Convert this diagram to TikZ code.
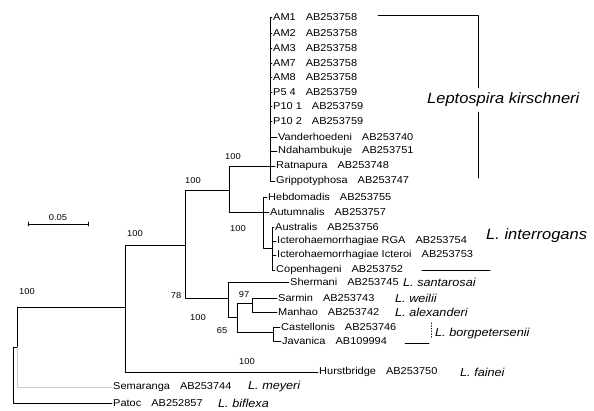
\documentclass[tikz,border=0pt]{standalone}
\usepackage{fontspec}
\setmainfont{Liberation Sans}[FakeStretch=1.1]
\usetikzlibrary{calc}
\tikzset{
  taxon/.style={anchor=west, inner sep=1pt, font=\fontsize{10}{11}\selectfont},
  species/.style={anchor=west, inner sep=0pt, font=\fontsize{11.5}{12}\selectfont\itshape},
  group/.style={anchor=west, inner sep=0pt, font=\fontsize{15}{17}\selectfont\itshape},
  boot/.style={inner sep=0pt, font=\fontsize{8.5}{9}\selectfont},
  branch/.style={line width=0.7pt},
}

\begin{document}
\begin{tikzpicture}[x=1pt, y=-1pt, line join=round, line cap=round]
\useasboundingbox (0,0) rectangle (594,410);
\node[taxon] (am1) at (272,17) {AM1\quad AB253758};
\node[taxon] (am2) at (272,33) {AM2\quad AB253758};
\node[taxon] (am3) at (272,48) {AM3\quad AB253758};
\node[taxon] (am7) at (272,63) {AM7\quad AB253758};
\node[taxon] (am8) at (272,77) {AM8\quad AB253758};
\node[taxon] (p54) at (272,92) {P5 4\quad AB253759};
\node[taxon] (p101) at (272,106) {P10 1\quad AB253759};
\node[taxon] (p102) at (272,121) {P10 2\quad AB253759};
\node[taxon] (vand) at (277,137) {Vanderhoedeni\quad AB253740};
\node[taxon] (ndah) at (277,151) {Ndahambukuje\quad AB253751};
\node[taxon] (ratn) at (275,166) {Ratnapura\quad AB253748};
\node[taxon] (gripp) at (275,181) {Grippotyphosa\quad AB253747};
\node[taxon] (hebd) at (267,197) {Hebdomadis\quad AB253755};
\node[taxon] (autu) at (269,212) {Autumnalis\quad AB253757};
\node[taxon] (austr) at (274,227) {Australis\quad AB253756};
\node[taxon] (rga) at (276,241) {Icterohaemorrhagiae RGA\quad AB253754};
\node[taxon] (icter) at (276,255) {Icterohaemorrhagiae Icteroi\quad AB253753};
\node[taxon] (copen) at (275,270) {Copenhageni\quad AB253752};
\node[taxon] (sherm) at (289,282) {Shermani\quad AB253745};
\node[taxon] (sarm) at (277,298) {Sarmin\quad AB253743};
\node[taxon] (manh) at (277,312) {Manhao\quad AB253742};
\node[taxon] (cast) at (280,327) {Castellonis\quad AB253746};
\node[taxon] (java) at (281,341) {Javanica\quad AB109994};
\node[taxon] (hurst) at (318,372) {Hurstbridge\quad AB253750};
\node[taxon] (sema) at (112,387) {Semaranga\quad AB253744};
\node[taxon] (patoc) at (112,403) {Patoc\quad AB252857};

\coordinate (k) at (270,166);
\coordinate (ic) at (272,248);
\coordinate (it) at (263,212);
\coordinate (ki) at (229,190);
\coordinate (bg) at (273,332);
\coordinate (sm) at (252,303);
\coordinate (lb) at (237,317);
\coordinate (lo) at (228,298);
\coordinate (a185) at (185,245);
\coordinate (a125) at (125,307);
\coordinate (a17) at (17,347);
\coordinate (root) at (13,380);

\begin{scope}[branch]
\foreach \t in {am1,am2,am3,am7,am8,p54,p101,p102,vand,ndah,ratn,gripp}
  \draw (k) |- (\t.west);
\foreach \t in {austr,rga,icter,copen}
  \draw (ic) |- (\t.west);
\draw (it) |- (hebd.west);
\draw (it) |- (autu.west);
\draw (it) |- (ic);
\draw (ki) |- (k);
\draw (ki) |- (it);
\draw (bg) |- (cast.west);
\draw (bg) |- (java.west);
\draw (sm) |- (sarm.west);
\draw (sm) |- (manh.west);
\draw (lb) |- (sm);
\draw (lb) |- (bg);
\draw (lo) |- (sherm.west);
\draw (lo) |- (lb);
\draw (a185) |- (ki);
\draw (a185) |- (lo);
\draw (a125) |- (a185);
\draw (a125) |- (hurst.west);
\draw (a17) |- (a125);
\draw[gray!40] (a17) |- (sema.west);
\draw (root) |- (a17);
\draw (root) |- (patoc.west);
\end{scope}

\node[boot] (b1) at (233,157) {100};
\node[boot] (b2) at (193,181) {100};
\node[boot] (b3) at (135,234) {100};
\node[boot] (b4) at (238,229) {100};
\node[boot] (b5) at (27,292) {100};
\node[boot] (b6) at (176,296) {78};
\node[boot] (b7) at (244,295) {97};
\node[boot] (b8) at (198,318) {100};
\node[boot] (b9) at (222,331) {65};
\node[boot] (b10) at (247,362) {100};

\coordinate (s0) at (28,224);
\coordinate (s1) at (88,224);
\draw[branch] (s0) -- (s1);
\draw[branch] (s0) ++(0,-2) -- ++(0,4);
\draw[branch] (s1) ++(0,-2) -- ++(0,4);
\node[boot, above=3pt] (scale) at ($(s0)!0.5!(s1)$) {0.05};

\node[group] (kir) at (427,100) {Leptospira kirschneri};
\coordinate (kt) at (378,15);
\coordinate (ka) at (478,88);
\coordinate (kc) at (478,112);
\coordinate (kb) at (478,178);
\draw[branch] (kt) -| (ka);
\draw[branch] (kc) -- (kb);

\node[group] (intr) at (486,236) {L. interrogans};
\coordinate (u0) at (422,270);
\coordinate (u1) at (490,270);
\draw[branch] (u0) -- (u1);

\node[species] (sant) at (403,282) {L. santarosai};
\node[species] (weil) at (395,298) {L. weilii};
\node[species] (alex) at (395,312) {L. alexanderi};
\node[species] (borg) at (435,334) {L. borgpetersenii};
\coordinate (g0) at (405,343);
\coordinate (g1) at (429,343);
\coordinate (g2) at (431,323);
\coordinate (g3) at (431,338);
\draw[branch] (g0) -- (g1);
\draw[branch, dotted] (g2) -- (g3);
\node[species] (fain) at (460,372) {L. fainei};
\node[species] (meye) at (248,387) {L. meyeri};
\node[species] (bifl) at (218,403) {L. biflexa};
\end{tikzpicture}
\end{document}
